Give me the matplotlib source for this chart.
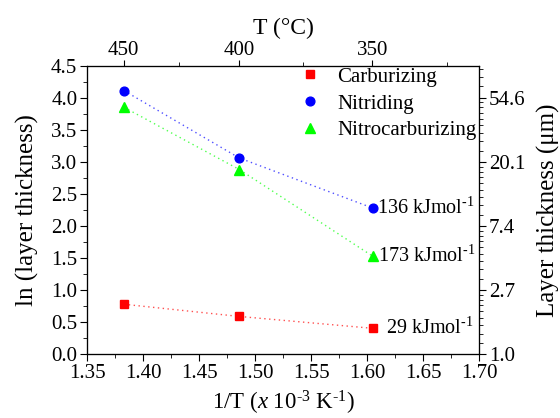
import numpy as np
import matplotlib
matplotlib.use('Agg')
import matplotlib.pyplot as plt
from matplotlib.ticker import MultipleLocator, FixedLocator, FormatStrFormatter

plt.rcParams['font.family'] = ['Liberation Serif', 'DejaVu Serif']
plt.rcParams['mathtext.fontset'] = 'custom'
plt.rcParams['mathtext.rm'] = 'Liberation Serif'
plt.rcParams['mathtext.it'] = 'Liberation Serif:italic'

inv_t = [1.383, 1.486, 1.605]
carb = [0.78, 0.59, 0.405]
nitr = [4.11, 3.06, 2.28]
nitrocarb = [3.85, 2.88, 1.53]
energies = ['29', '136', '173']
temps_major = [450, 400, 350]
temps_minor = [425, 375, 325]
right_labels = ['1.0', '2.7', '7.4', '20.1', '54.6']

fig = plt.figure(figsize=(5.6, 4.18), dpi=100)
ax = fig.add_axes([0.1554, 0.1524, 0.70, 0.6906])

dots = (0, (1, 2.5))
ax.plot(inv_t, carb, ls=dots, color='#ff5050', lw=1)
ax.plot(inv_t, nitr, ls=dots, color='#5050ff', lw=1)
ax.plot(inv_t, nitrocarb, ls=dots, color='#50ff50', lw=1)
ax.plot(inv_t, carb, 's', color='#ff0000', ms=5.5, ls='none', label='Carburizing')
ax.plot(inv_t, nitr, 'o', color='#0000ff', ms=6.3, ls='none', label='Nitriding')
ax.plot(inv_t, nitrocarb, '^', color='#00ff00', ms=7, ls='none', label='Nitrocarburizing')

unit = r' kJmol$^{\text{-1}}$'
ax.text(1.609, nitr[2], energies[1] + unit, fontsize=14.5, va='center')
ax.text(1.610, nitrocarb[2], energies[2] + unit, fontsize=14.5, va='center')
ax.text(1.617, carb[2], energies[0] + unit, fontsize=14.5, va='center')

ax.set_xlim(1.35, 1.70)
ax.set_ylim(0, 4.5)
ax.xaxis.set_major_locator(MultipleLocator(0.05))
ax.xaxis.set_minor_locator(MultipleLocator(0.025))
ax.yaxis.set_major_locator(MultipleLocator(0.5))
ax.yaxis.set_minor_locator(MultipleLocator(0.25))
ax.xaxis.set_major_formatter(FormatStrFormatter('%.2f'))
ax.yaxis.set_major_formatter(FormatStrFormatter('%.1f'))
ax.tick_params(which='major', direction='out', length=5, labelsize=15, pad=2)
ax.tick_params(which='minor', direction='out', length=3)
ax.set_xlabel(r'1/T ($\mathit{x}$ 10$^{\text{-3}}$ K$^{\text{-1}}$)', fontsize=16.5, labelpad=4)
ax.set_ylabel('ln (layer thickness)', fontsize=18, labelpad=9)

# top axis: temperature in C
top = ax.twiny()
top.set_xlim(ax.get_xlim())
top.set_xticks([1000 / (t + 273.15) for t in temps_major])
top.set_xticklabels([str(t) for t in temps_major])
top.xaxis.set_minor_locator(FixedLocator([1000 / (t + 273.15) for t in temps_minor]))
top.tick_params(which='major', direction='out', length=4, labelsize=15, pad=0)
top.tick_params(which='minor', direction='out', length=3)
top.set_xlabel('T (\u00b0C)', fontsize=17, labelpad=5)

# right axis: layer thickness (exp of ln)
right = ax.twinx()
right.set_ylim(ax.get_ylim())
right.set_yticks(range(len(right_labels)))
right.set_yticklabels(right_labels)
minors = []
for k in range(5):
    lo, hi = np.exp(k), np.exp(k + 1)
    for v in np.linspace(lo, hi, 10)[1:-1]:
        if np.log(v) < 4.5:
            minors.append(np.log(v))
right.yaxis.set_minor_locator(FixedLocator(minors))
right.tick_params(which='major', direction='out', length=5, labelsize=15, pad=2)
right.tick_params(which='minor', direction='out', length=3)
right.set_ylabel('Layer thickness (\u03bcm)', fontsize=18, labelpad=8)

leg = ax.legend(loc='upper left', bbox_to_anchor=(0.542, 0.995), frameon=False, fontsize=15,
                handletextpad=0.8, borderpad=0, borderaxespad=0, labelspacing=0.35,
                handlelength=1.0)

fig.savefig('out.png', dpi=100)
